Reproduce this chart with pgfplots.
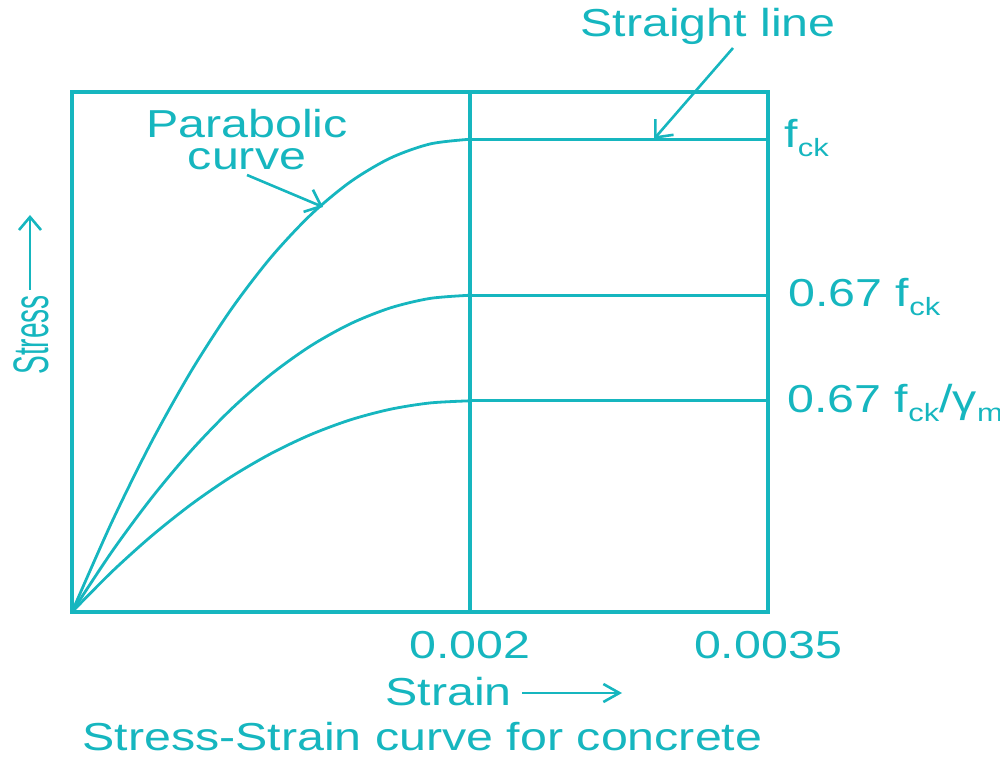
\documentclass[border=0pt]{standalone}
\usepackage{fontspec}
\setmainfont{Liberation Sans}
\usepackage{pgfplots}
\pgfplotsset{compat=1.18}
\usetikzlibrary{arrows.meta}
\definecolor{tl}{RGB}{22,182,191}
\newcommand\hs[1]{\scalebox{1.24}[1]{#1}}
\newcommand\sub[1]{\raisebox{-4.5pt}{\fontsize{12.5}{13}\selectfont #1}}
\begin{document}
\begin{tikzpicture}[font=\fontsize{19.5}{23}\selectfont, every node/.style={text=tl, inner sep=0pt}]
\path[use as bounding box] (-36pt,-76.5pt) rectangle (464pt,306pt);
\begin{axis}[
  width=348pt, height=260pt, scale only axis,
  xmin=0, xmax=0.0035, ymin=0, ymax=1.1,
  axis line style={draw=tl, line width=1.8pt},
  clip=false,
  xtick={0.002,0.0035},
  xticklabels={\hs{0.002},\hs{0.0035}},
  scaled x ticks=false,
  major tick length=0pt,
  xticklabel style={anchor=base, yshift=-23pt, text=tl},
  ytick=\empty,
]
% parabolic parts
\addplot[tl, line width=1.4pt, smooth] coordinates {(0,0) (0.0002,0.19) (0.0004,0.36) (0.0006,0.51) (0.0008,0.64) (0.001,0.75) (0.0012,0.84) (0.0014,0.91) (0.0016,0.96) (0.0018,0.99) (0.002,1.0)};
\addplot[tl, line width=1.4pt, smooth] coordinates {(0,0) (0.0002,0.1273) (0.0004,0.2412) (0.0006,0.3417) (0.0008,0.4288) (0.001,0.5025) (0.0012,0.5628) (0.0014,0.6097) (0.0016,0.6432) (0.0018,0.6633) (0.002,0.67)};
\addplot[tl, line width=1.4pt, smooth] coordinates {(0,0) (0.0002,0.0849) (0.0004,0.1608) (0.0006,0.2278) (0.0008,0.2859) (0.001,0.3350) (0.0012,0.3752) (0.0014,0.4065) (0.0016,0.4288) (0.0018,0.4422) (0.002,0.4467)};
% straight parts
\addplot[tl, line width=1.4pt] coordinates {(0.002,1.0) (0.0035,1.0)};
\addplot[tl, line width=1.4pt] coordinates {(0.002,0.67) (0.0035,0.67)};
\addplot[tl, line width=1.4pt] coordinates {(0.002,0.4467) (0.0035,0.4467)};
% vertical line at 0.002
\addplot[tl, line width=1.8pt] coordinates {(0.002,0) (0.002,1.1)};
% right labels
\node[anchor=base west] at (axis cs:0.0035,1.0) [xshift=8pt, yshift=-4pt] {\hs{f\sub{ck}}};
\node[anchor=base west] at (axis cs:0.0035,0.67) [xshift=10pt, yshift=-5.5pt] {\hs{0.67 f\sub{ck}}};
\node[anchor=base west] at (axis cs:0.0035,0.4467) [xshift=9.5pt, yshift=-6pt] {\hs{0.67 f\sub{ck}/γ\sub{m}}};
\end{axis}
% annotations
\node[anchor=base] at (318pt,287.5pt) {\hs{Straight line}};
\draw[tl, line width=1.3pt, -{Straight Barb[length=7pt,width=12pt,line width=1.3pt]}] (330.5pt,282pt) -- (291pt,236.5pt);
\node[anchor=north, align=center, font=\fontsize{19.5}{16}\selectfont] at (87.5pt,251.5pt) {\hs{Parabolic}\\\hs{curve}};
\draw[tl, line width=1.3pt, -{Straight Barb[length=7pt,width=12pt,line width=1.3pt]}] (87.5pt,218.5pt) -- (125.5pt,202.5pt);
\node[anchor=south] at (-20.5pt,118.5pt) {\scalebox{1.28}[0.72]{\rotatebox{90}{Stress}}};
\draw[tl, line width=1.3pt, -{Straight Barb[length=6.5pt,width=11pt,line width=1.3pt]}] (-21pt,161pt) -- (-21pt,198.5pt);
\node[anchor=base west] at (156.5pt,-46.5pt) {\hs{Strain}};
\draw[tl, line width=1.3pt, -{Straight Barb[length=8pt,width=9pt,line width=1.3pt]}] (225pt,-40.5pt) -- (275pt,-40.5pt);
\node[anchor=base west] at (5pt,-69pt) {\hs{Stress-Strain curve for concrete}};
\end{tikzpicture}
\end{document}
